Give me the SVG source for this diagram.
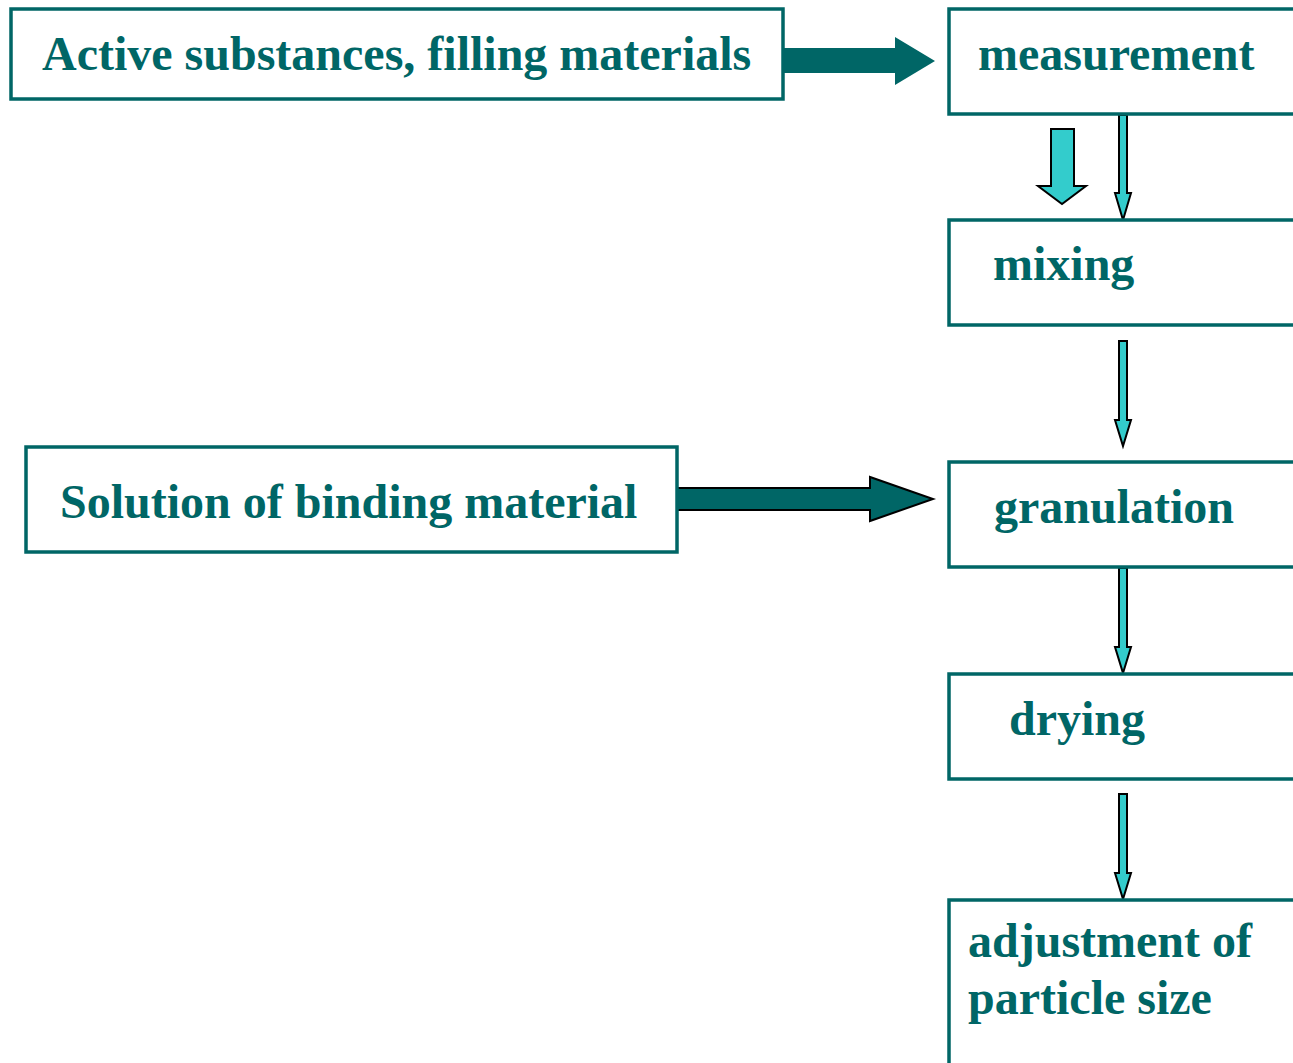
<svg xmlns="http://www.w3.org/2000/svg" width="1293" height="1063" viewBox="0 0 1293 1063">
<style>
.box{fill:#fff;stroke:#006666;stroke-width:3.5}
.lbl{font-family:"Liberation Serif","Times New Roman",serif;font-weight:bold;font-size:48px;fill:#006666}
.thin{fill:#33CCCC;stroke:#000;stroke-width:2;stroke-linejoin:miter}
.big{fill:#006666}
.bigo{fill:#006666;stroke:#000;stroke-width:2}
</style>
<rect width="1293" height="1063" fill="#fff"/>
<g id="connectors">
<polygon class="big" points="783,48 895,48 895,37 935,61 895,85 895,73 783,73"/>
<polygon class="bigo" points="677,488 870,488 870,477 933,499 870,521 870,510 677,510"/>
<polygon class="thin" points="1051,129 1074,129 1074,186 1086,186 1062,204 1038,186 1051,186"/>
<polygon class="thin" points="1119,115 1127,115 1127,193 1131,193 1123,220 1115,193 1119,193"/>
<polygon class="thin" points="1119,341 1127,341 1127,420 1131,420 1123,446 1115,420 1119,420"/>
<polygon class="thin" points="1119,568 1127,568 1127,647 1131,647 1123,673 1115,647 1119,647"/>
<polygon class="thin" points="1119,794 1127,794 1127,873 1131,873 1123,899 1115,873 1119,873"/>
</g>
<g id="node-active">
<rect class="box" x="11" y="9" width="772" height="90"/>
<text class="lbl" x="42" y="70">Active substances, filling materials</text>
</g>
<g id="node-measurement">
<rect class="box" x="949" y="9" width="360" height="105"/>
<text class="lbl" x="978" y="70">measurement</text>
</g>
<g id="node-mixing">
<rect class="box" x="949" y="220" width="360" height="105"/>
<text class="lbl" x="993" y="280">mixing</text>
</g>
<g id="node-solution">
<rect class="box" x="26" y="447" width="651" height="105"/>
<text class="lbl" x="60" y="518">Solution of binding material</text>
</g>
<g id="node-granulation">
<rect class="box" x="949" y="462" width="360" height="105"/>
<text class="lbl" x="994" y="523">granulation</text>
</g>
<g id="node-drying">
<rect class="box" x="949" y="674" width="360" height="105"/>
<text class="lbl" x="1009" y="735">drying</text>
</g>
<g id="node-adjustment">
<rect class="box" x="949" y="900" width="360" height="200"/>
<text class="lbl" x="968" y="957">adjustment of</text>
<text class="lbl" x="968" y="1014">particle size</text>
</g>
</svg>
